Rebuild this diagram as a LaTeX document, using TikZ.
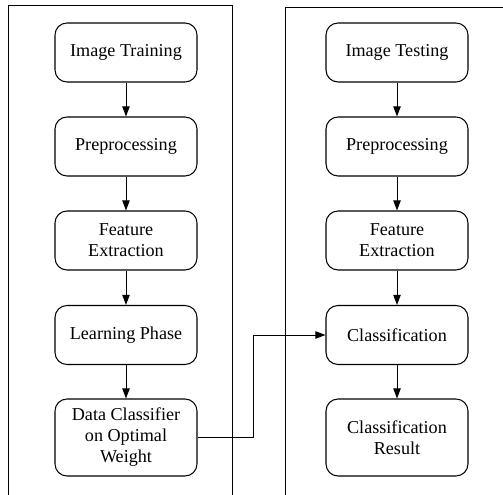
\documentclass[tikz,border=0pt]{standalone}
\usepackage{fontspec}
\setmainfont{Liberation Serif}
\newfontfamily\tnr{Liberation Serif}
\usetikzlibrary{arrows.meta}
\begin{document}
\begin{tikzpicture}[x=0.75pt,y=-0.75pt,
  stepbox/.style={draw, rounded corners=9pt, minimum width=142*0.75pt, minimum height=59*0.75pt,
    align=center, font=\tnr\fontsize{13.6}{15.8}\selectfont, inner sep=0pt, line width=0.8pt},
  tallbox/.style={stepbox, minimum height=77*0.75pt},
  conn/.style={draw, line width=0.7pt, -{Triangle[length=7.5pt,width=5.5pt]}},
  panel/.style={draw, line width=0.7pt}]
\useasboundingbox (0,0) rectangle (503,495);
% panels
\draw[panel] (8,495) -- (8,5) -- (232,5) -- (232,495);
\draw[panel] (285,495) -- (285,7) -- (503,7);
% left column
\node[stepbox] (l1) at (126,52.5) {Image Training};
\node[stepbox] (l2) at (126,146.5) {Preprocessing};
\node[stepbox] (l3) at (126,240.5) {Feature\\Extraction};
\node[stepbox] (l4) at (126,335) {Learning Phase};
\node[tallbox] (l5) at (126,437.5) {Data Classifier\\on Optimal\\Weight};
% right column
\node[stepbox] (r1) at (397,52.5) {Image Testing};
\node[stepbox] (r2) at (397,146.5) {Preprocessing};
\node[stepbox] (r3) at (397,240.5) {Feature\\Extraction};
\node[stepbox] (r4) at (397,335) {Classification};
\node[tallbox] (r5) at (397,437.5) {Classification\\Result};
% connectors
\draw[conn] (l1) -- (l2);
\draw[conn] (l2) -- (l3);
\draw[conn] (l3) -- (l4);
\draw[conn] (l4) -- (l5);
\draw[conn] (r1) -- (r2);
\draw[conn] (r2) -- (r3);
\draw[conn] (r3) -- (r4);
\draw[conn] (r4) -- (r5);
\coordinate (b1) at (253,437.5);
\coordinate (b2) at (253,335);
\draw[conn] (l5.east) -- (b1) -- (b2) -- (r4.west);
\end{tikzpicture}
\end{document}
